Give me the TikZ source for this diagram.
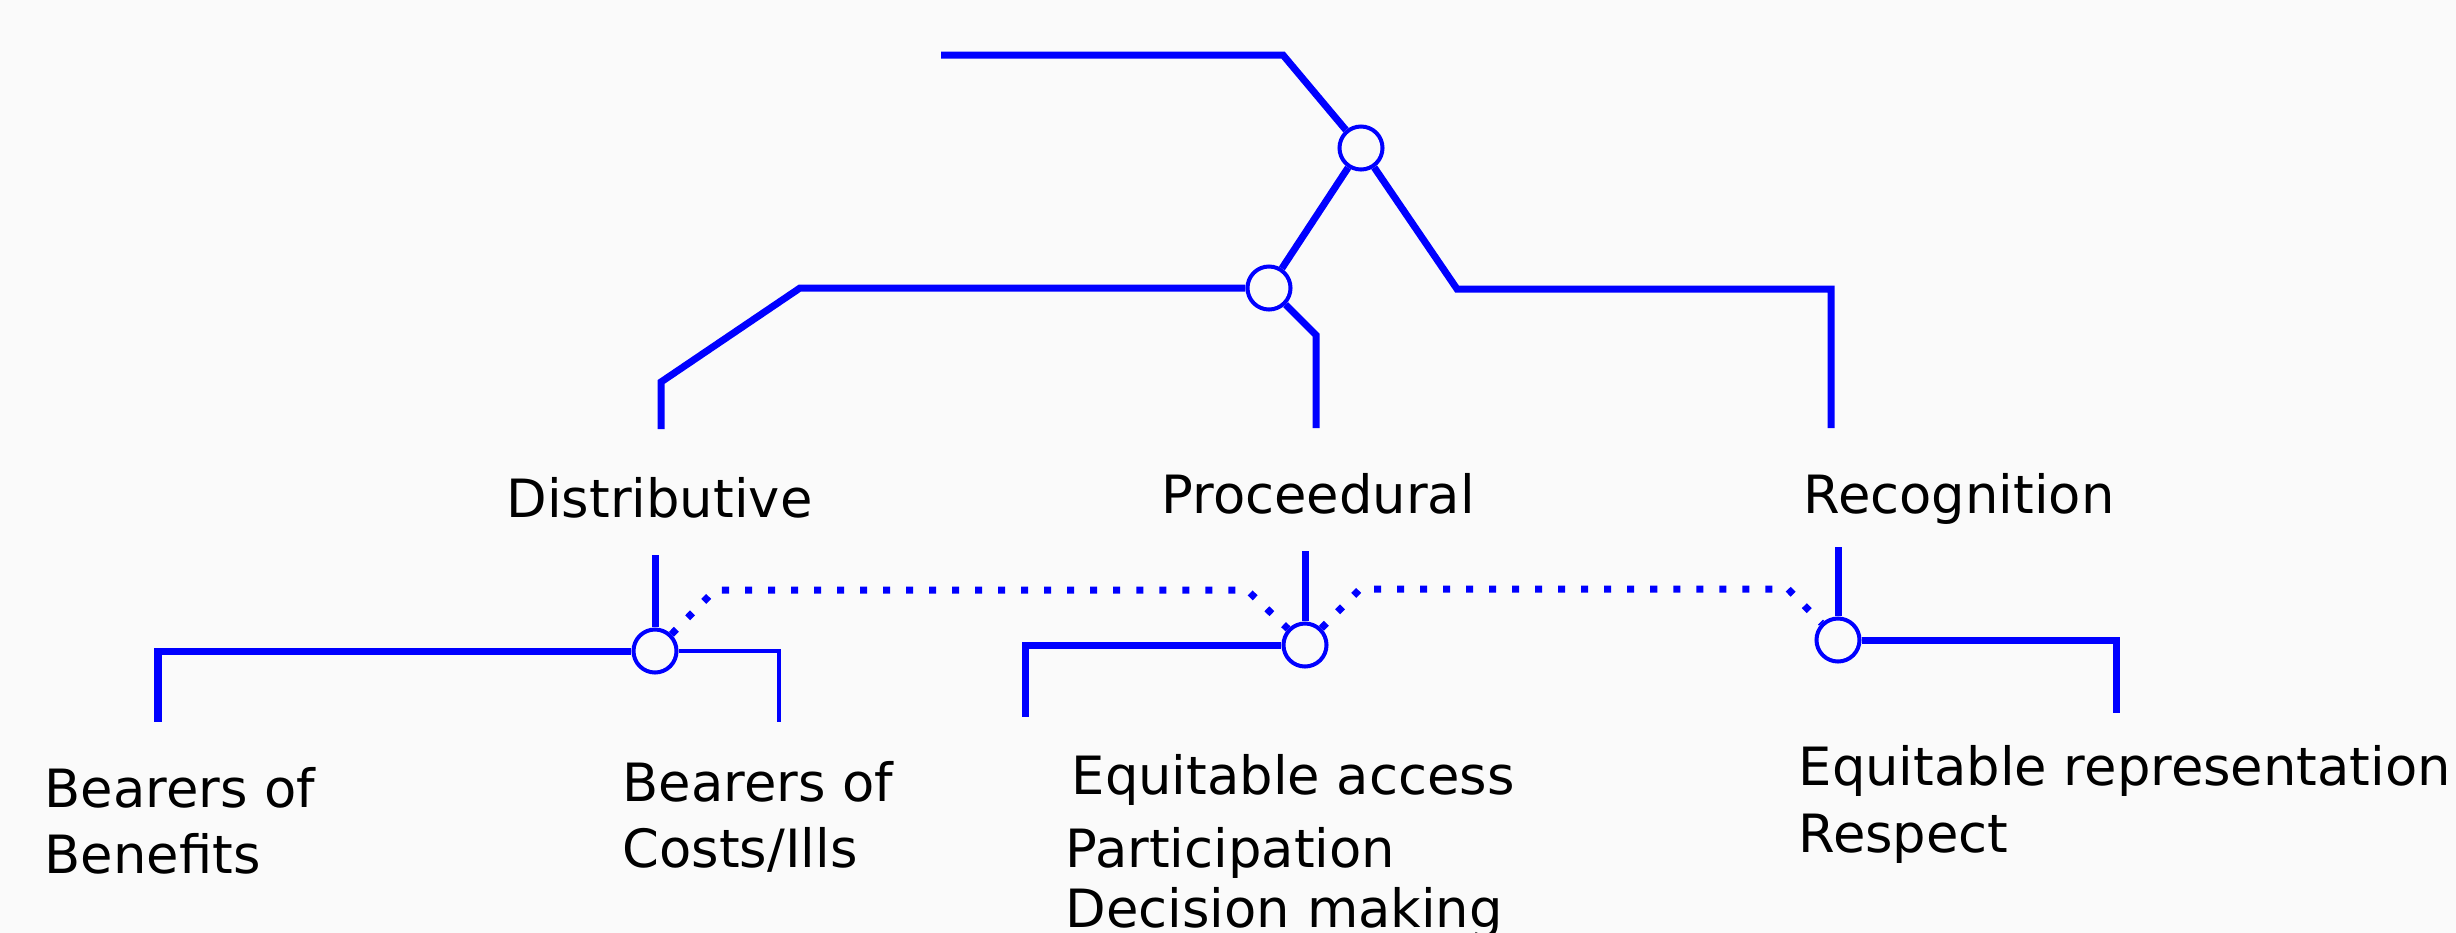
\documentclass[tikz,border=0pt]{standalone}
\usepackage{fontspec}
\setmainfont{DejaVu Sans}
\usepackage{xcolor}
\usepackage{tikz}
\definecolor{jblue}{RGB}{0,0,255}
\definecolor{bgpaper}{RGB}{250,250,250}

\begin{document}
\begin{tikzpicture}[
  x=0.01cm, y=-0.01cm,
  link/.style={draw=jblue, line width=0.07cm},
  thinlink/.style={draw=jblue, line width=0.035cm},
  dotlink/.style={draw=jblue, line width=0.07cm, dash pattern=on 0.07cm off 0.16cm},
  junc/.style={circle, draw=jblue, line width=0.04cm, fill=bgpaper, minimum size=0.43cm, inner sep=0pt},
  lbl/.style={inner sep=0pt, anchor=base west, align=left, font=\fontsize{15}{18.5}\selectfont}
]
\fill[bgpaper] (0,0) rectangle (2456,933);
\useasboundingbox (0,0) rectangle (2456,933);

% junctions
\node[junc] (jtop) at (1361,148) {};
\node[junc] (jmid) at (1269,288) {};
\node[junc] (jdist) at (655,651) {};
\node[junc] (jproc) at (1305,645) {};
\node[junc] (jrec) at (1838,640) {};

% bend points and loose ends
\coordinate (tstart) at (941,55);
\coordinate (tbend) at (1283,55);
\coordinate (rbend) at (1457,289);
\coordinate (rcorner) at (1831,289);
\coordinate (rend) at (1831,428);
\coordinate (lbend) at (800,288);
\coordinate (lcorner) at (661,382);
\coordinate (lend) at (661,429);
\coordinate (mbend) at (1316,335);
\coordinate (mend) at (1316,428);
\coordinate (dstub) at (655,555);
\coordinate (pstub) at (1305,551);
\coordinate (rstub) at (1838,547);
\coordinate (benend) at (158,722);
\coordinate (costend) at (779,722);
\coordinate (accend) at (1025,717);
\coordinate (repend) at (2116,713);
\coordinate (dp1) at (715,590);
\coordinate (dp2) at (1247,590);
\coordinate (pr1) at (1360,589);
\coordinate (pr2) at (1788,589);

% upper tree
\draw[link] (tstart) -- (tbend) -- (jtop);
\draw[link] (jtop) -- (jmid);
\draw[link] (jtop) -- (rbend) -- (rcorner) -- (rend);
\draw[link] (jmid) -- (lbend) -- (lcorner) -- (lend);
\draw[link] (jmid) -- (mbend) -- (mend);

% lower branches
\draw[link] (dstub) -- (jdist);
\draw[link] (pstub) -- (jproc);
\draw[link] (rstub) -- (jrec);
\draw[link] (jdist) -| (benend);
\draw[thinlink] (jdist) -| (costend);
\draw[link] (jproc) -| (accend);
\draw[link] (jrec) -| (repend);

% dotted cross links
\draw[dotlink] (jdist) -- (dp1) -- (dp2) -- (jproc);
\draw[dotlink] (jproc) -- (pr1) -- (pr2) -- (jrec);

% labels (multi-line: base is the last line)
\node[lbl] (distr) at (506,517) {Distributive};
\node[lbl] (proced) at (1161,513) {Proceedural};
\node[lbl] (recog) at (1803,513) {Recognition};
\node[lbl] (benef) at (44,873) {Bearers of\\Benefits};
\node[lbl] (costs) at (622,867) {Bearers of\\Costs/Ills};
\node[lbl] (access) at (1071,794) {Equitable access};
\node[lbl, font=\fontsize{15}{17}\selectfont] (partic) at (1065,927) {Participation\\Decision making};
\node[lbl, font=\fontsize{15}{19}\selectfont] (repres) at (1798,852) {Equitable representation\\Respect};
\end{tikzpicture}
\end{document}
